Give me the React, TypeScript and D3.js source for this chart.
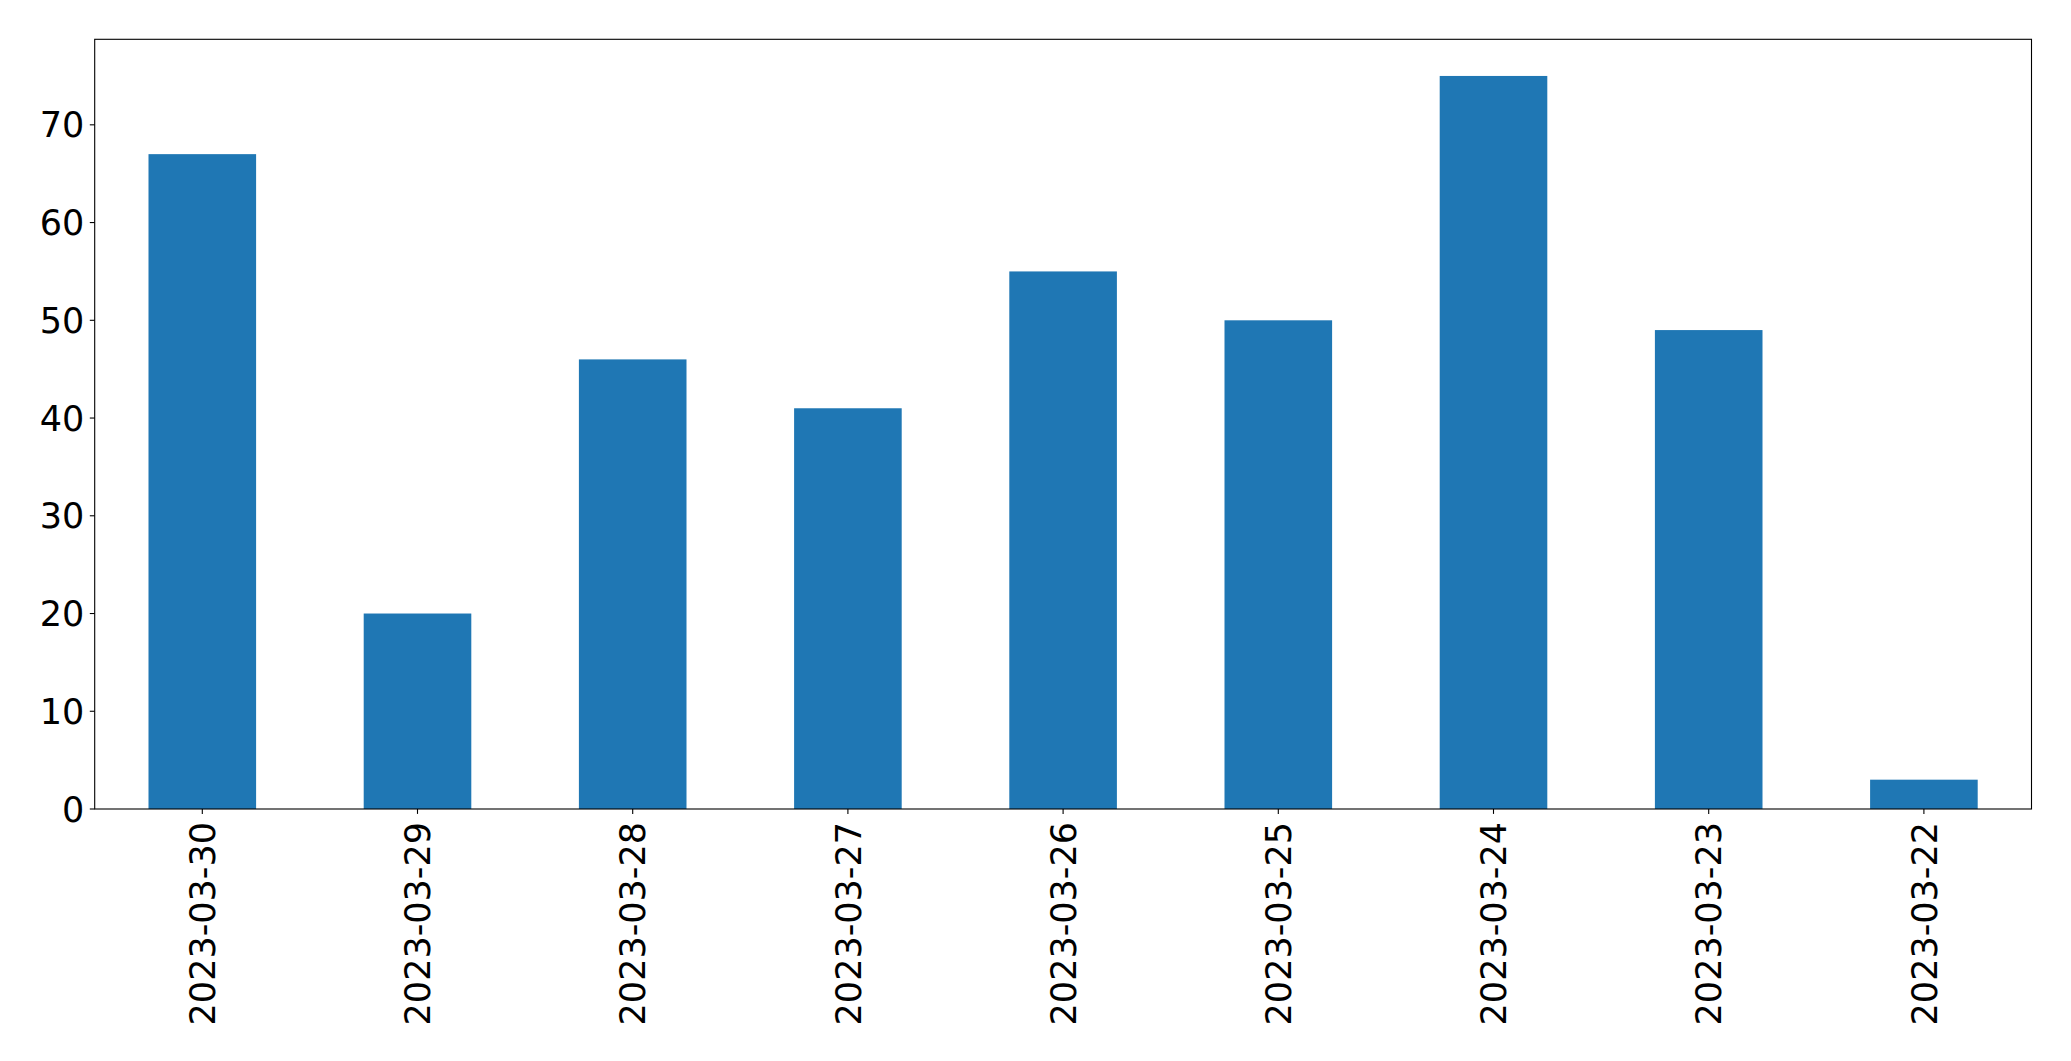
import React, { useEffect } from "react";
import * as d3 from "d3";

const categories = ["2023-03-30", "2023-03-29", "2023-03-28", "2023-03-27", "2023-03-26", "2023-03-25", "2023-03-24", "2023-03-23", "2023-03-22"];
const values = [67, 20, 46, 41, 55, 50, 75, 49, 3];
const yTicks = [0, 10, 20, 30, 40, 50, 60, 70];

const W = 2071;
const H = 1061;
const left = 94.7;
const right = 2031.5;
const top = 39.3;
const bottom = 809;
const FONT = "DejaVu Sans, sans-serif";
const FS = 35;

export default function App() {
  useEffect(() => {
    document.body.style.margin = "0";
  }, []);
  const n = categories.length;
  const x = d3.scaleLinear().domain([-0.5, n - 0.5]).range([left, right]);
  const yMax = d3.max(values)! * 1.05;
  const y = d3.scaleLinear().domain([0, yMax]).range([bottom, top]);
  const bw = x(0.25) - x(-0.25);
  return (
    <svg width={W} height={H} style={{ display: "block", background: "#fff" }}>
      <rect x={0} y={0} width={W} height={H} fill="#fff" />
      {values.map((v, i) => (
        <rect key={i} x={x(i) - bw / 2} y={y(v)} width={bw} height={y(0) - y(v)} fill="#1f77b4" />
      ))}
      <rect x={left} y={top} width={right - left} height={bottom - top} fill="none" stroke="#000" strokeWidth={1.1} />
      {yTicks.map((t) => (
        <g key={t}>
          <line x1={left - 4.9} x2={left} y1={y(t)} y2={y(t)} stroke="#000" strokeWidth={1.1} />
          <text x={left - 10.5} y={y(t)} dy="0.36em" textAnchor="end" fontFamily={FONT} fontSize={FS} fill="#000">
            {t}
          </text>
        </g>
      ))}
      {categories.map((c, i) => (
        <g key={c}>
          <line x1={x(i)} x2={x(i)} y1={bottom} y2={bottom + 4.9} stroke="#000" strokeWidth={1.1} />
          <text
            transform={`translate(${x(i)},${bottom + 13}) rotate(-90)`}
            dy="0.36em"
            textAnchor="end"
            fontFamily={FONT}
            fontSize={FS}
            fill="#000"
          >
            {c}
          </text>
        </g>
      ))}
    </svg>
  );
}
